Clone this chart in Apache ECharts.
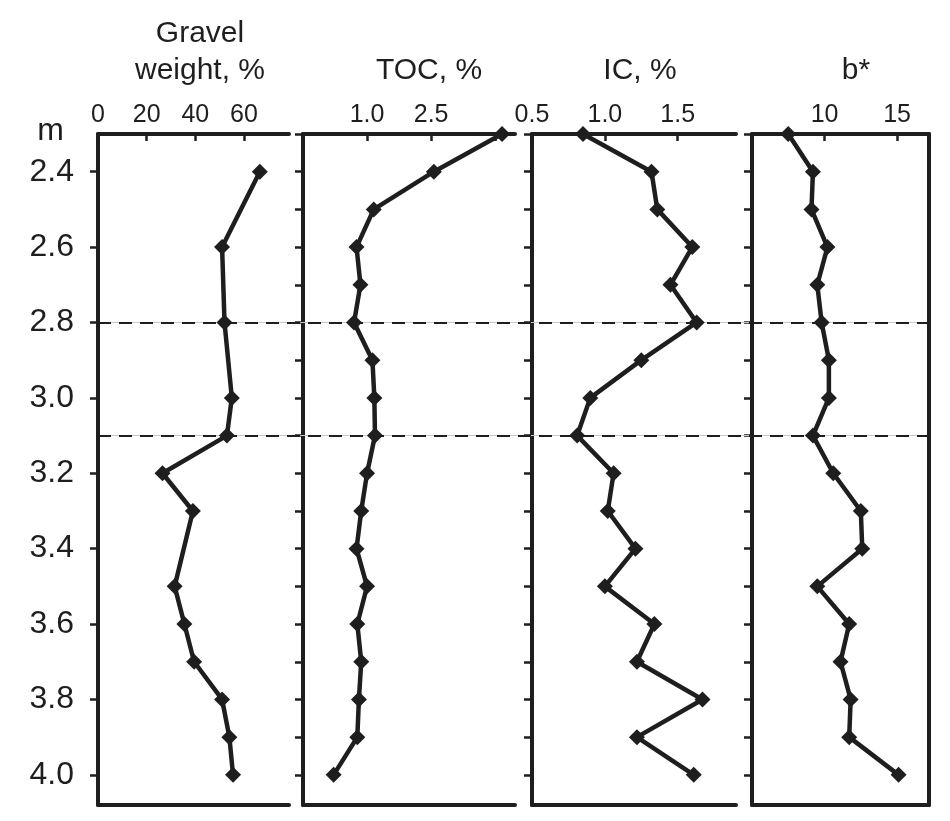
<!DOCTYPE html>
<html>
<head>
<meta charset="utf-8">
<script src="https://cdn.jsdelivr.net/npm/echarts@6/dist/echarts.min.js"></script>
<style>
html,body{margin:0;padding:0;background:#fff;}
#chart{width:950px;height:821px;}
</style>
</head>
<body>
<div id="chart"></div>
<script>
// ---- data ----
const depth = [2.3, 2.4, 2.5, 2.6, 2.7, 2.8, 2.9, 3.0, 3.1, 3.2, 3.3, 3.4, 3.5, 3.6, 3.7, 3.8, 3.9, 4.0];
const gravelDepth = [2.4, 2.6, 2.8, 3.0, 3.1, 3.2, 3.3, 3.5, 3.6, 3.7, 3.8, 3.9, 4.0];
const gravel = [66.5, 51, 52, 55, 53, 26.5, 39, 31.5, 35.5, 39.5, 51, 54, 55.5];
const toc = [6.9, 2.6, 1.1, 0.86, 0.91, 0.83, 1.08, 1.11, 1.12, 1.0, 0.92, 0.86, 1.0, 0.87, 0.92, 0.89, 0.87, 0.62];
const ic = [0.85, 1.32, 1.36, 1.6, 1.45, 1.63, 1.25, 0.9, 0.81, 1.06, 1.02, 1.21, 1.0, 1.34, 1.22, 1.67, 1.22, 1.61];
const bstar = [7.5, 9.2, 9.1, 10.2, 9.5, 9.8, 10.3, 10.3, 9.2, 10.6, 12.5, 12.6, 9.5, 11.7, 11.1, 11.8, 11.7, 15.1];
const boundaries = [2.8, 3.1];

// tick labels
const depthLabels = [2.3, 2.4, 2.6, 2.8, 3.0, 3.2, 3.4, 3.6, 3.8, 4.0];
const depthMajor = [2.4, 2.6, 2.8, 3.0, 3.2, 3.4, 3.6, 3.8, 4.0];
const gravelTicks = [0, 20, 40, 60];
const tocTicks = [1.0, 2.5];
const icTicks = [0.5, 1.0, 1.5];
const bTicks = [10, 15];
const titles = ['Gravel\nweight, %', 'TOC, %', 'IC, %', 'b*'];

// ---- chart ----
const FONT = 'Liberation Sans, Arial, sans-serif';
const INK = '#1e1e1e';
const chart = echarts.init(document.getElementById('chart'), null, {renderer: 'canvas'});

const grids = [
  {left: 98, top: 134, width: 191, height: 671},
  {left: 303, top: 134, width: 212, height: 671},
  {left: 532, top: 134, width: 204, height: 671},
  {left: 752, top: 134, width: 177, height: 671},
  {left: 98, top: 134, width: 831, height: 671}
];

const lineW = 4;
const axisLine = {show: true, onZero: false, lineStyle: {color: INK, width: lineW}};
const topLabel = {show: true, margin: 6, fontSize: 25, fontFamily: FONT, color: INK};
const topTick = {show: true, inside: true, length: 7, lineStyle: {color: INK, width: 2.5}};

function topAxis(gi, extra) {
  return Object.assign({
    type: 'value', gridIndex: gi, position: 'top',
    axisLine: axisLine,
    axisTick: topTick,
    axisLabel: topLabel,
    splitLine: {show: false}
  }, extra);
}
function bottomAxis(gi) {
  return {type: 'value', gridIndex: gi, position: 'bottom', min: 0, max: 1,
    axisLine: axisLine, axisTick: {show: false}, axisLabel: {show: false}, splitLine: {show: false}};
}
function leftAxis(gi, extra) {
  return Object.assign({
    type: 'value', gridIndex: gi, position: 'left', inverse: true, min: 2.3, max: 4.08,
    axisLine: axisLine,
    axisTick: {show: true, inside: false, length: 8, lineStyle: {color: INK, width: 2.5}, customValues: depth},
    axisLabel: {show: false},
    splitLine: {show: false}
  }, extra);
}

const fmt1 = v => v.toFixed(1);

const xAxis = [
  topAxis(0, {min: 0, max: 78.5,
    axisTick: Object.assign({}, topTick, {customValues: gravelTicks}),
    axisLabel: Object.assign({}, topLabel, {customValues: gravelTicks})}),
  topAxis(1, {type: 'log', logBase: 2.5, min: 0.4, max: 8.3,
    axisLabel: Object.assign({}, topLabel, {showMinLabel: false, showMaxLabel: false,
      formatter: v => {
        for (const t of tocTicks) { if (Math.abs(v - t) < 1e-6) return t.toFixed(1); }
        return '';
      }})}),
  topAxis(2, {min: 0.5, max: 1.9,
    axisTick: Object.assign({}, topTick, {customValues: icTicks}),
    axisLabel: Object.assign({}, topLabel, {customValues: icTicks, formatter: fmt1})}),
  topAxis(3, {min: 5, max: 17.2,
    axisTick: Object.assign({}, topTick, {customValues: bTicks}),
    axisLabel: Object.assign({}, topLabel, {customValues: bTicks})}),
  {type: 'value', gridIndex: 4, min: 0, max: 1, show: false},
  bottomAxis(0), bottomAxis(1), bottomAxis(2), bottomAxis(3)
];

const yAxis = [
  leftAxis(0, {
    axisTick: {show: true, inside: false, length: 8, lineStyle: {color: INK, width: 2.5}, customValues: depthMajor},
    axisLabel: {show: true, margin: 24, fontSize: 32, fontFamily: FONT, color: INK, customValues: depthLabels,
      formatter: v => Math.abs(v - depth[0]) < 1e-6 ? '{m|m}' : v.toFixed(1),
      rich: {m: {fontSize: 32, fontFamily: FONT, color: INK, padding: [0, 10, 6, 0]}}}
  }),
  leftAxis(1), leftAxis(2), leftAxis(3),
  {type: 'value', gridIndex: 4, inverse: true, min: 2.3, max: 4.08, show: false},
  {type: 'value', gridIndex: 3, position: 'right', inverse: true, min: 2.3, max: 4.08,
    axisLine: axisLine, axisTick: {show: false}, axisLabel: {show: false}, splitLine: {show: false}}
];

function profile(xi, values, depths) {
  return {
    type: 'line', xAxisIndex: xi, yAxisIndex: xi,
    data: values.map((v, i) => [v, depths[i]]),
    symbol: 'diamond', symbolSize: 16, showSymbol: true,
    itemStyle: {color: INK},
    lineStyle: {color: INK, width: 4.5},
    clip: false, z: 5, silent: true, animation: false
  };
}

const series = [
  profile(0, gravel, gravelDepth),
  profile(1, toc, depth),
  profile(2, ic, depth),
  profile(3, bstar, depth),
  {type: 'line', xAxisIndex: 4, yAxisIndex: 4, data: [], silent: true, z: 1, animation: false,
    markLine: {symbol: 'none', silent: true, label: {show: false},
      lineStyle: {color: '#c8c8c8', width: 1, type: 'solid'},
      data: boundaries.map(b => ({yAxis: b}))}},
  {type: 'line', xAxisIndex: 4, yAxisIndex: 4, data: [], silent: true, z: 2, animation: false,
    markLine: {symbol: 'none', silent: true, label: {show: false},
      lineStyle: {color: INK, width: 2.2, type: [13, 8]},
      data: boundaries.map(b => ({yAxis: b}))}}
];

const titleX = [195, 424, 635, 851];
const titleTop = [10, 47, 47, 47];
const title = titles.map((t, i) => ({
  text: t, left: titleX[i], top: titleTop[i], textAlign: 'center',
  textStyle: {fontSize: 30, fontWeight: 'normal', fontFamily: FONT, color: INK, lineHeight: 37}
}));

chart.setOption({
  backgroundColor: '#fff',
  animation: false,
  title: title,
  grid: grids,
  xAxis: xAxis,
  yAxis: yAxis,
  series: series
});
</script>
</body>
</html>
